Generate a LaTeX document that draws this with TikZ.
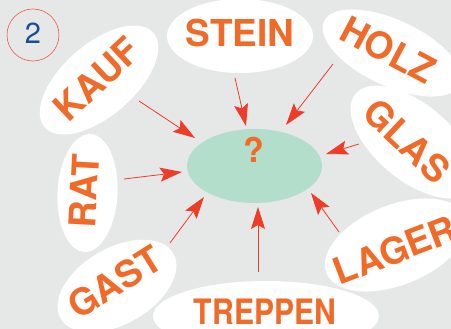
\documentclass[tikz,border=0pt]{standalone}
\usepackage{fontspec}
\setmainfont{TeX Gyre Heros}
\usetikzlibrary{shapes.geometric,arrows.meta}
\definecolor{bg}{RGB}{230,231,231}
\definecolor{mint}{RGB}{179,222,204}
\definecolor{wordc}{RGB}{242,106,40}
\definecolor{arrc}{RGB}{238,60,40}
\definecolor{numblue}{RGB}{26,76,156}
\definecolor{ringc}{RGB}{236,90,70}
\tikzset{
  blob/.style={ellipse, fill=white, inner sep=0pt},
  word/.style={text=wordc, font=\bfseries\fontsize{37}{37}\selectfont, inner sep=0pt, anchor=center},
  arr/.style={draw=arrc, line width=0.8pt, -{Stealth[length=22pt,width=14pt,inset=4pt]}},
}
\begin{document}
\begin{tikzpicture}[x=1pt,y=-1pt]
\useasboundingbox (0,0) rectangle (451,329);
\fill[bg] (0,0) rectangle (451,329);
\begin{scope}
\clip (0,0) rectangle (451,329);
% number
\node[circle, draw=ringc, line width=0.6pt, minimum size=52pt, inner sep=0pt] (num) at (33,35) {};
\node[text=numblue, font=\fontsize{29}{29}\selectfont, inner sep=0pt] (numt) at (33,33) {2};
% centre
\node[ellipse, fill=mint, minimum width=135pt, minimum height=74pt, inner sep=0pt] (q) at (254.5,166) {};
\node[word, font=\bfseries\fontsize{34}{34}\selectfont] (qt) at (254,150) {?};
% word ellipses
\node[blob, minimum width=146pt, minimum height=74pt] (stein) at (240,36) {};
\node[word] (steint) at (240,33.5) {STEIN};
\node[blob, minimum width=144pt, minimum height=72pt, rotate=41] (kauf) at (99,80) {};
\node[word, rotate=43] (kauft) at (97,79) {KAUF};
\node[blob, minimum width=150pt, minimum height=66pt, rotate=-25] (holz) at (392,53) {};
\node[word, rotate=-28] (holzt) at (388,50) {HOLZ};
\node[blob, minimum width=150pt, minimum height=76pt, rotate=-40] (glas) at (413,142) {};
\node[word, rotate=-43] (glast) at (407,141) {GLAS};
\node[blob, minimum width=150pt, minimum height=80pt, rotate=22] (lager) at (396,245) {};
\node[word, rotate=21] (lagert) at (395,250) {LAGER};
\node[blob, minimum width=226pt, minimum height=70pt] (treppen) at (266,316) {};
\node[word, font=\bfseries\fontsize{35}{35}\selectfont, xscale=0.86] (treppent) at (265,312) {TREPPEN};
\node[blob, minimum width=60pt, minimum height=118pt, rotate=-3] (rat) at (87.5,193) {};
\node[word, rotate=87] (ratt) at (84,191) {RAT};
\node[blob, minimum width=130pt, minimum height=76pt, rotate=30] (gast) at (117,286) {};
\node[word, rotate=32] (gastt) at (115,282) {GAST};
\end{scope}
% arrow ends
\coordinate (kaufA) at (139,101); \coordinate (kaufB) at (195,138);
\coordinate (steinA) at (235,78); \coordinate (steinB) at (246,126);
\coordinate (holzA) at (333,64); \coordinate (holzB) at (286,125);
\coordinate (glasA) at (359,144); \coordinate (glasB) at (326,154);
\coordinate (ratA) at (124,179); \coordinate (ratB) at (182,172);
\coordinate (gastA) at (170,243); \coordinate (gastB) at (204,197);
\coordinate (treppenA) at (258,272); \coordinate (treppenB) at (258,207);
\coordinate (lagerA) at (339,232); \coordinate (lagerB) at (311,193);
\draw[arr] (kaufA) -- (kaufB);
\draw[arr] (steinA) -- (steinB);
\draw[arr] (holzA) -- (holzB);
\draw[arr] (glasA) -- (glasB);
\draw[arr] (ratA) -- (ratB);
\draw[arr] (gastA) -- (gastB);
\draw[arr] (treppenA) -- (treppenB);
\draw[arr] (lagerA) -- (lagerB);
\end{tikzpicture}
\end{document}
